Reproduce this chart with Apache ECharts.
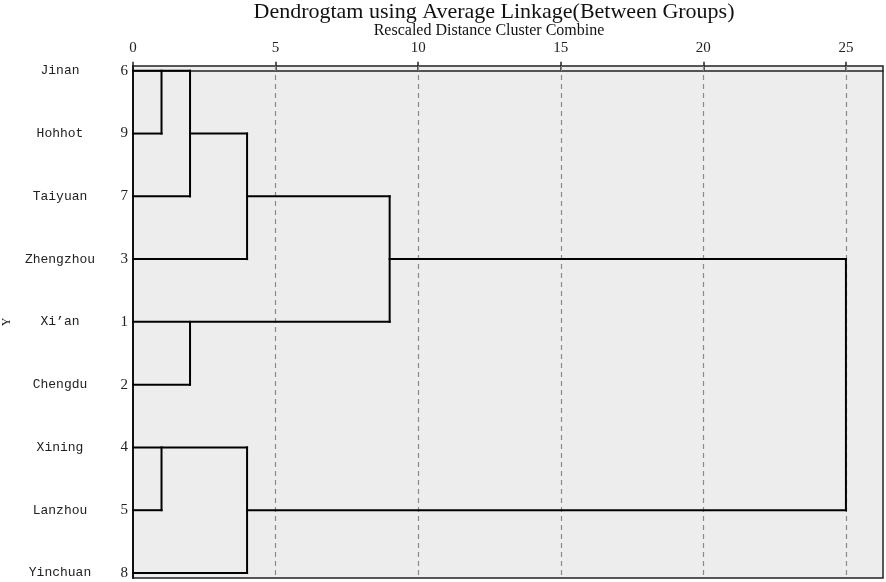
<!DOCTYPE html>
<html>
<head>
<meta charset="utf-8">
<script src="https://cdn.jsdelivr.net/npm/echarts@6/dist/echarts.min.js"></script>
<style>
html,body{margin:0;padding:0;background:#fff;}
#chart{width:886px;height:582px;}
</style>
</head>
<body>
<div id="chart"></div>
<script>
// ---- data ----
const titleText = 'Dendrogtam using Average Linkage(Between Groups)';
const subtitleText = 'Rescaled Distance Cluster Combine';
const yAxisName = 'Y';
const cities = ['Jinan', 'Hohhot', 'Taiyuan', 'Zhengzhou', "Xi\u2019an", 'Chengdu', 'Xining', 'Lanzhou', 'Yinchuan'];
const caseNumbers = [6, 9, 7, 3, 1, 2, 4, 5, 8];
const xTicks = [0, 5, 10, 15, 20, 25];
const gridLineValues = [5, 10, 15, 20, 25];
const rowValues = [0, 1, 2, 3, 4, 5, 6, 7, 8];
// horizontal segments: [row, fromDistance, toDistance]
const hSegments = [
  [0, 0, 2], [1, 0, 1], [1, 2, 4], [2, 0, 2], [2, 4, 9],
  [3, 0, 4], [3, 9, 25], [4, 0, 9], [5, 0, 2],
  [6, 0, 4], [7, 0, 1], [7, 4, 25], [8, 0, 4]
];
// vertical segments: [distance, fromRow, toRow]
const vSegments = [
  [1, 0, 1], [2, 0, 2], [4, 1, 3], [9, 2, 4], [2, 4, 5],
  [25, 3, 7], [1, 6, 7], [4, 6, 8]
];

const segData = [];
hSegments.forEach(s => segData.push([s[1], s[0], s[2], s[0]]));
vSegments.forEach(s => segData.push([s[0], s[1], s[0], s[2]]));

const chart = echarts.init(document.getElementById('chart'), null, {renderer: 'canvas'});
const option = {
  animation: false,
  backgroundColor: '#ffffff',
  graphic: [
    {type: 'text', x: 494, y: 12, style: {text: titleText, textAlign: 'center', textVerticalAlign: 'middle', fontFamily: 'Liberation Serif', fontSize: 22, fill: '#111'}},
    {type: 'text', x: 489, y: 31, style: {text: subtitleText, textAlign: 'center', textVerticalAlign: 'middle', fontFamily: 'Liberation Serif', fontSize: 16, fill: '#111'}}
  ],
  grid: {left: 133, top: 66, width: 750, height: 512, show: true, backgroundColor: '#ededed', borderColor: '#222', borderWidth: 1.5, containLabel: false, outerBoundsMode: 'none'},
  xAxis: {
    type: 'value', position: 'top', min: 0, max: 26.3,
    axisLine: {show: true, lineStyle: {color: '#222', width: 1.5}},
    axisTick: {show: true, customValues: xTicks, length: 9, inside: false, lineStyle: {color: '#222', width: 1.5}},
    axisLabel: {customValues: xTicks, margin: 10, fontFamily: 'Liberation Serif', fontSize: 15, color: '#222'},
    splitLine: {show: false}
  },
  yAxis: {
    type: 'value', inverse: true, min: -0.076, max: 8.08,
    name: yAxisName, nameLocation: 'middle', nameGap: 120, nameRotate: 90,
    nameTextStyle: {fontFamily: 'Liberation Serif', fontSize: 12, color: '#222'},
    axisLine: {show: true, lineStyle: {color: '#111', width: 2}},
    axisTick: {show: false},
    splitLine: {show: false},
    axisLabel: {
      customValues: rowValues, margin: 5,
      formatter: v => '{c|' + cities[v] + '}{n|' + caseNumbers[v] + '}',
      rich: {
        c: {width: 96, align: 'center', fontFamily: 'Liberation Mono', fontSize: 13, color: '#222'},
        n: {width: 20, align: 'right', fontFamily: 'Liberation Serif', fontSize: 15, color: '#222'}
      }
    }
  },
  series: [{
    type: 'custom',
    data: segData,
    encode: {x: [0, 2], y: [1, 3]},
    renderItem: function (params, api) {
      const p1 = api.coord([api.value(0), api.value(1)]);
      const p2 = api.coord([api.value(2), api.value(3)]);
      return {type: 'line', shape: {x1: p1[0], y1: p1[1], x2: p2[0], y2: p2[1]}, style: {stroke: '#000', lineWidth: 2, lineCap: 'square'}, z2: 10};
    },
    markLine: {
      silent: true, symbol: ['none', 'none'], label: {show: false},
      lineStyle: {type: [5, 4], color: '#8a8a8a', width: 1.2},
      emphasis: {disabled: true},
      data: gridLineValues.map(v => ({xAxis: v}))
    },
    z: 5
  }]
};
chart.setOption(option);
</script>
</body>
</html>
